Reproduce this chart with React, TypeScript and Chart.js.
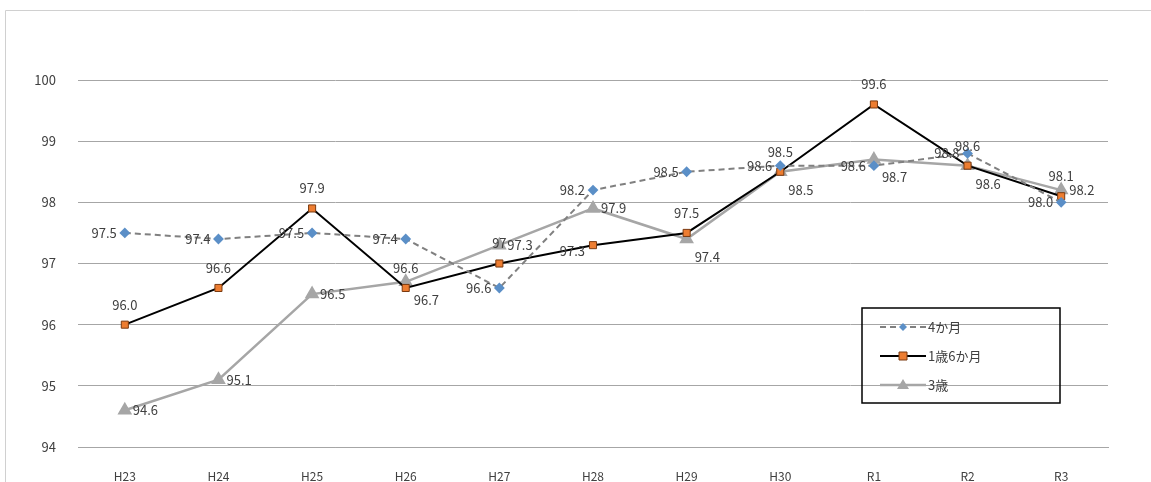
import { useEffect, useRef } from 'react';
import { Chart, registerables } from 'chart.js';

Chart.register(...registerables);

const categories = ['H23', 'H24', 'H25', 'H26', 'H27', 'H28', 'H29', 'H30', 'R1', 'R2', 'R3'];
const months4 = [97.5, 97.4, 97.5, 97.4, 96.6, 98.2, 98.5, 98.6, 98.6, 98.8, 98.0];
const months18 = [96.0, 96.6, 97.9, 96.6, 97.0, 97.3, 97.5, 98.5, 99.6, 98.6, 98.1];
const years3 = [94.6, 95.1, 96.5, 96.7, 97.3, 97.9, 97.4, 98.5, 98.7, 98.6, 98.2];

// label text as printed on the original
const labels4 = ['97.5', '97.4', '97.5', '97.4', '96.6', '98.2', '98.5', '98.6', '98.6', '98.8', '98.0'];
const labels18 = ['96.0', '96.6', '97.9', '96.6', '97', '97.3', '97.5', '98.5', '99.6', '98.6', '98.1'];
const labels3 = ['94.6', '95.1', '96.5', '96.7', '97.3', '97.9', '97.4', '98.5', '98.7', '98.6', '98.2'];

// where each label sits relative to its point
const place4 = ['left', 'left', 'left', 'left', 'left', 'left', 'left', 'left', 'left', 'left', 'left'];
const place18 = ['above', 'above', 'above', 'above', 'above', 'belowleft', 'above', 'above', 'above', 'above', 'above'];
const place3 = ['right', 'right', 'right', 'belowright', 'right', 'right', 'belowright', 'belowright', 'belowright', 'belowright', 'right'];

const FONT = '"Noto Sans CJK JP", "Noto Sans", sans-serif';

const labelPlugin = {
  id: 'pointLabels',
  afterDatasetsDraw(chart: any) {
    const ctx = chart.ctx;
    const texts = [labels4, labels18, labels3];
    const places = [place4, place18, place3];
    ctx.save();
    ctx.font = `13px ${FONT}`;
    ctx.fillStyle = '#404040';
    chart.data.datasets.forEach((_: any, di: number) => {
      chart.getDatasetMeta(di).data.forEach((pt: any, i: number) => {
        const p = places[di][i];
        let x = pt.x, y = pt.y;
        ctx.textBaseline = 'middle';
        if (p === 'left') { ctx.textAlign = 'right'; x -= 8; }
        else if (p === 'right') { ctx.textAlign = 'left'; x += 8; }
        else if (p === 'above') { ctx.textAlign = 'center'; y -= 20; }
        else if (p === 'belowright') { ctx.textAlign = 'left'; x += 8; y += 18; }
        else if (p === 'belowleft') { ctx.textAlign = 'right'; x -= 8; y += 6; }
        ctx.fillText(texts[di][i], x, y);
      });
    });
    ctx.restore();
  },
  afterDraw(chart: any) {
    const ctx = chart.ctx;
    const bx = 862, by = 308, bw = 198, bh = 95;
    ctx.save();
    ctx.strokeStyle = '#000';
    ctx.lineWidth = 1.5;
    ctx.strokeRect(bx, by, bw, bh);
    ctx.font = `13px ${FONT}`;
    ctx.fillStyle = '#404040';
    ctx.textAlign = 'left';
    ctx.textBaseline = 'middle';
    chart.data.datasets.forEach((ds: any, i: number) => {
      const y = by + 19 + i * 29;
      ctx.beginPath();
      ctx.strokeStyle = ds.borderColor;
      ctx.lineWidth = ds.borderWidth;
      ctx.setLineDash(ds.borderDash || []);
      ctx.moveTo(bx + 18, y);
      ctx.lineTo(bx + 64, y);
      ctx.stroke();
      ctx.setLineDash([]);
      ctx.fillStyle = ds.pointBackgroundColor;
      ctx.strokeStyle = ds.pointBorderColor;
      ctx.lineWidth = 1;
      const cx = bx + 41;
      ctx.beginPath();
      if (ds.pointStyle === 'rectRot') {
        ctx.moveTo(cx, y - 4); ctx.lineTo(cx + 4, y); ctx.lineTo(cx, y + 4); ctx.lineTo(cx - 4, y); ctx.closePath();
        ctx.fill();
      } else if (ds.pointStyle === 'rect') {
        ctx.rect(cx - 4, y - 4, 8, 8); ctx.fill(); ctx.stroke();
      } else {
        ctx.moveTo(cx, y - 6); ctx.lineTo(cx + 6, y + 4); ctx.lineTo(cx - 6, y + 4); ctx.closePath();
        ctx.fill();
      }
      ctx.fillStyle = '#404040';
      ctx.fillText(ds.label, bx + 66, y);
    });
    ctx.restore();
  },
};

const framePlugin = {
  id: 'frame',
  beforeDraw(chart: any) {
    const ctx = chart.ctx;
    ctx.save();
    ctx.fillStyle = '#fff';
    ctx.fillRect(0, 0, chart.width, chart.height);
    ctx.strokeStyle = '#d0d0d0';
    ctx.lineWidth = 1;
    ctx.beginPath();
    ctx.moveTo(5.5, chart.height);
    ctx.lineTo(5.5, 10.5);
    ctx.lineTo(chart.width, 10.5);
    ctx.stroke();
    ctx.restore();
  },
};

export default function App() {
  const chartRef = useRef<HTMLCanvasElement>(null);
  const chartInstance = useRef<Chart | null>(null);

  useEffect(() => {
    document.body.style.margin = '0';
    if (!chartRef.current) return;
    if (chartInstance.current) chartInstance.current.destroy();

    chartInstance.current = new Chart(chartRef.current, {
      type: 'line',
      data: {
        labels: categories,
        datasets: [
          {
            label: '4か月',
            data: months4,
            borderColor: '#808080',
            borderWidth: 2,
            borderDash: [6, 4],
            pointStyle: 'rectRot',
            pointRadius: 4,
            pointBackgroundColor: '#5b8fc7',
            pointBorderColor: '#5b8fc7',
            tension: 0,
          },
          {
            label: '1歳6か月',
            data: months18,
            borderColor: '#000000',
            borderWidth: 2,
            pointStyle: 'rect',
            pointRadius: 5,
            pointBackgroundColor: '#ed7d31',
            pointBorderColor: '#7a3a10',
            pointBorderWidth: 1,
            tension: 0,
          },
          {
            label: '3歳',
            data: years3,
            borderColor: '#a6a6a6',
            borderWidth: 2.5,
            pointStyle: 'triangle',
            pointRadius: 6,
            pointBackgroundColor: '#a6a6a6',
            pointBorderColor: '#a6a6a6',
            tension: 0,
          },
        ],
      },
      options: {
        responsive: false,
        animation: false,
        layout: { padding: { left: 20, right: 43, top: 80, bottom: 0 } },
        plugins: { legend: { display: false }, tooltip: { enabled: false } },
        scales: {
          x: {
            offset: true,
            grid: { display: false },
            border: { color: '#a6a6a6' },
            ticks: { color: '#404040', font: { size: 12, family: FONT }, padding: 14 },
            afterFit: (s: any) => { s.height = 35; },
          },
          y: {
            min: 94,
            max: 100,
            ticks: { stepSize: 1, color: '#404040', font: { size: 13, family: FONT }, padding: 22 },
            grid: { color: '#a6a6a6', drawTicks: false },
            border: { display: false },
            afterFit: (s: any) => { s.width = 58; },
          },
        },
      },
      plugins: [framePlugin, labelPlugin],
    });

    return () => {
      if (chartInstance.current) chartInstance.current.destroy();
    };
  }, []);

  return <canvas ref={chartRef} width={1151} height={482}></canvas>;
}
